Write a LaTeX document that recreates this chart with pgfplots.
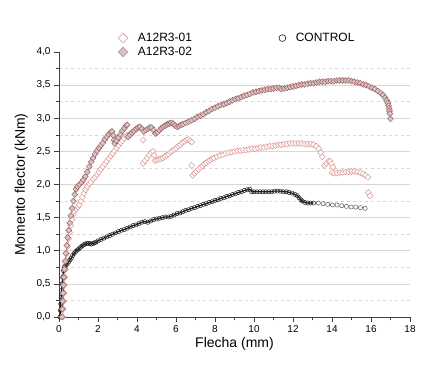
\documentclass[border=0pt]{standalone}
\usepackage{fontspec}
\setmainfont{Liberation Sans}
\usepackage{pgfplots}
\usepackage{pgfplotstable}
\pgfplotsset{compat=1.18}
\definecolor{cA}{RGB}{222,150,150}
\definecolor{cB}{RGB}{168,92,92}
\definecolor{fB}{RGB}{208,200,200}
\definecolor{cC}{RGB}{30,30,30}
\definecolor{gridc}{RGB}{215,215,215}

\pgfplotstableread{
x y
0.15 0.00
0.17 0.12
0.19 0.24
0.21 0.36
0.23 0.48
0.25 0.60
0.28 0.72
0.31 0.84
0.35 0.96
0.40 1.08
0.45 1.20
0.50 1.31
0.55 1.42
0.61 1.53
0.67 1.64
0.74 1.75
0.81 1.85
0.88 1.93
0.95 1.97
1.05 2.00
1.15 2.03
1.25 2.07
1.35 2.12
1.45 2.19
1.55 2.27
1.65 2.34
1.75 2.40
1.85 2.46
1.95 2.51
2.05 2.55
2.15 2.59
2.25 2.63
2.35 2.68
2.45 2.72
2.55 2.76
2.65 2.79
2.72 2.80
2.78 2.74
2.82 2.67
2.86 2.62
2.95 2.66
3.05 2.71
3.15 2.76
3.25 2.81
3.35 2.85
3.45 2.89
3.50 2.90
nan nan
3.55 2.72
3.65 2.75
3.75 2.78
3.85 2.81
3.95 2.84
4.05 2.86
4.15 2.87
4.25 2.84
4.35 2.80
4.45 2.82
4.55 2.84
4.65 2.86
4.75 2.86
4.85 2.82
4.95 2.77
5.05 2.79
5.15 2.82
5.25 2.85
5.35 2.87
5.45 2.89
5.55 2.91
5.65 2.92
5.75 2.93
5.85 2.92
5.95 2.89
6.05 2.87
6.15 2.88
6.25 2.90
6.35 2.91
6.50 2.93
6.65 2.95
6.80 2.97
6.95 2.99
7.10 3.02
7.25 3.04
7.40 3.06
7.55 3.09
7.70 3.11
7.85 3.14
8.00 3.16
8.15 3.18
8.30 3.20
8.45 3.21
8.60 3.23
8.75 3.25
8.90 3.27
9.05 3.29
9.20 3.30
9.35 3.32
9.50 3.34
9.65 3.35
9.80 3.37
9.95 3.39
10.10 3.40
10.25 3.41
10.40 3.42
10.55 3.43
10.70 3.44
10.85 3.44
11.00 3.45
11.15 3.46
11.30 3.46
11.40 3.44
11.55 3.45
11.70 3.46
11.85 3.47
12.00 3.48
12.15 3.49
12.30 3.50
12.45 3.51
12.60 3.51
12.75 3.52
12.90 3.53
13.05 3.53
13.20 3.54
13.35 3.55
13.50 3.55
13.65 3.55
13.80 3.56
13.95 3.56
14.10 3.56
14.25 3.57
14.40 3.57
14.55 3.57
14.70 3.57
14.85 3.57
15.00 3.56
15.15 3.55
15.30 3.54
15.45 3.53
15.60 3.51
15.75 3.50
15.90 3.48
16.05 3.46
16.20 3.44
16.35 3.41
16.50 3.38
16.62 3.35
16.72 3.31
16.80 3.27
16.86 3.23
16.90 3.19
16.93 3.15
16.95 3.11
16.97 3.07
17.00 2.99
}\dataB

\pgfplotstableread{
x y
0.20 0.00
0.22 0.12
0.24 0.24
0.26 0.36
0.28 0.48
0.30 0.60
0.33 0.72
0.36 0.84
0.40 0.96
0.44 1.07
0.49 1.18
0.54 1.28
0.60 1.38
0.66 1.47
0.73 1.55
0.80 1.60
0.88 1.63
0.96 1.66
1.04 1.69
1.12 1.75
1.20 1.81
1.28 1.87
1.36 1.92
1.45 1.97
1.55 2.01
1.65 2.04
1.75 2.08
1.85 2.11
1.95 2.15
2.05 2.19
2.15 2.23
2.25 2.27
2.35 2.31
2.45 2.35
2.55 2.39
2.65 2.43
2.75 2.47
2.85 2.51
2.95 2.55
3.05 2.59
3.15 2.63
3.25 2.66
3.35 2.70
3.45 2.73
3.55 2.75
3.65 2.77
3.75 2.79
3.85 2.81
3.95 2.83
4.05 2.85
4.15 2.86
nan nan
4.32 2.67
nan nan
4.32 2.32
4.42 2.36
4.52 2.40
4.62 2.44
4.72 2.48
4.82 2.50
4.88 2.44
4.92 2.36
5.02 2.37
5.12 2.38
5.22 2.39
5.32 2.40
5.42 2.42
5.52 2.44
5.62 2.46
5.72 2.49
5.82 2.51
5.92 2.53
6.02 2.55
6.12 2.58
6.22 2.60
6.32 2.63
6.42 2.65
6.52 2.67
6.62 2.68
6.72 2.66
6.80 2.64
nan nan
6.80 2.29
nan nan
6.86 2.14
6.95 2.17
7.05 2.20
7.15 2.23
7.25 2.26
7.35 2.28
7.45 2.31
7.55 2.33
7.65 2.35
7.75 2.37
7.85 2.39
7.95 2.40
8.10 2.42
8.25 2.44
8.40 2.45
8.55 2.47
8.70 2.48
8.85 2.49
9.00 2.50
9.15 2.51
9.30 2.51
9.45 2.52
9.60 2.52
9.75 2.53
9.90 2.54
10.05 2.54
10.20 2.55
10.35 2.56
10.50 2.56
10.65 2.57
10.80 2.58
10.95 2.58
11.10 2.59
11.25 2.60
11.40 2.60
11.55 2.61
11.70 2.61
11.85 2.62
12.00 2.62
12.15 2.62
12.30 2.62
12.45 2.62
12.60 2.61
12.75 2.61
12.90 2.61
13.05 2.60
13.20 2.58
13.32 2.54
13.42 2.48
13.50 2.42
nan nan
13.62 2.29
13.72 2.32
13.82 2.35
13.90 2.35
13.98 2.31
14.05 2.26
nan nan
14.00 2.18
14.12 2.17
14.25 2.17
14.40 2.18
14.55 2.18
14.70 2.19
14.85 2.19
15.00 2.20
15.15 2.20
15.30 2.19
15.45 2.18
15.60 2.16
15.72 2.14
15.85 2.11
nan nan
15.86 1.88
15.95 1.83
}\dataA

\pgfplotstableread{
x y
0.05 0.00
0.07 0.10
0.09 0.20
0.11 0.30
0.13 0.40
0.16 0.50
0.19 0.60
0.23 0.70
0.28 0.76
0.35 0.78
0.42 0.80
0.49 0.83
0.56 0.86
0.63 0.89
0.70 0.93
0.78 0.96
0.86 0.99
0.94 1.01
1.02 1.03
1.10 1.05
1.18 1.07
1.26 1.09
1.34 1.10
1.42 1.11
1.50 1.11
1.58 1.11
1.66 1.10
1.74 1.11
1.82 1.12
1.90 1.13
2.00 1.15
2.15 1.17
2.30 1.19
2.45 1.21
2.60 1.23
2.75 1.25
2.90 1.27
3.05 1.29
3.20 1.31
3.35 1.32
3.50 1.34
3.65 1.36
3.80 1.38
3.95 1.39
4.10 1.41
4.25 1.43
4.40 1.44
4.55 1.43
4.70 1.45
4.85 1.47
5.00 1.48
5.15 1.49
5.30 1.50
5.45 1.51
5.60 1.51
5.75 1.52
5.90 1.54
6.05 1.56
6.20 1.57
6.35 1.59
6.50 1.61
6.65 1.62
6.80 1.64
6.95 1.65
7.10 1.67
7.25 1.68
7.40 1.70
7.55 1.71
7.70 1.73
7.85 1.74
8.00 1.76
8.15 1.77
8.30 1.79
8.45 1.80
8.60 1.82
8.75 1.83
8.90 1.85
9.05 1.86
9.20 1.88
9.35 1.89
9.50 1.91
9.65 1.92
9.78 1.93
9.88 1.89
10.00 1.89
10.15 1.89
10.30 1.89
10.45 1.89
10.60 1.89
10.75 1.89
10.90 1.89
11.05 1.90
11.20 1.90
11.35 1.90
11.50 1.89
11.65 1.89
11.80 1.88
11.95 1.87
12.10 1.85
12.22 1.83
12.32 1.80
12.40 1.77
12.48 1.75
12.60 1.73
12.75 1.72
12.90 1.72
13.05 1.72
}\dataC

\pgfplotstableread{
x y
13.30 1.72
13.54 1.71
13.78 1.70
14.02 1.69
14.26 1.69
14.50 1.68
14.74 1.67
14.98 1.66
15.22 1.66
15.46 1.65
15.70 1.64
}\dataCs

\begin{document}
\begin{tikzpicture}
\path (-59pt,-53pt) rectangle (385pt,317pt);
\begin{axis}[
  scale only axis, width=351pt, height=265pt,
  xmin=0, xmax=18, ymin=0, ymax=4,
  axis x line*=bottom, axis y line*=left,
  axis line style={draw=black!75, line width=0.6pt},
  xtick={0,2,...,18}, minor x tick num=1,
  ytick={0,0.5,...,3.5},
  minor ytick={0.25,0.75,...,3.75},
  extra y ticks={4},
  extra y tick labels={4{,}0},
  extra y tick style={grid=none},
  tick align=outside, major tick length=5pt, minor tick length=3pt,
  tick style={draw=black!75, line width=0.6pt},
  ymajorgrids, yminorgrids,
  major grid style={draw=gridc, line width=0.7pt},
  minor grid style={draw=gridc, dashed, line width=0.6pt},
  /pgf/number format/assume math mode=true,
  yticklabel style={/pgf/number format/.cd, use comma, fixed, fixed zerofill, precision=1},
  tick label style={font=\fontsize{10}{12}\selectfont},
  xlabel={Flecha (mm)}, ylabel={Momento flector (kNm)},
  label style={font=\fontsize{14}{16}\selectfont},
  xlabel style={yshift=2pt},
  ylabel style={yshift=-8pt},
  unbounded coords=jump,
  legend columns=2,
  legend style={at={(rel axis cs:0.16,1.087)}, anchor=north west, draw=none, fill=none,
    font=\fontsize{12}{14}\selectfont, row sep=0pt,
    /tikz/every odd column/.append style={column sep=8pt},
    /tikz/every even column/.append style={column sep=85pt}},
  clip=false,
]
\addlegendimage{only marks, mark=square*, mark size=3.4pt, mark options={rotate=45, draw=cA, fill=white, line width=0.6pt}}
\addlegendentry{A12R3-01}
\addlegendimage{only marks, mark=o, mark size=3.4pt, mark options={draw=cC, line width=0.6pt}}
\addlegendentry{CONTROL}
\addlegendimage{only marks, mark=square*, mark size=3.4pt, mark options={rotate=45, draw=cB!70, fill=fB, line width=0.6pt}}
\addlegendentry{A12R3-02}

\addplot[forget plot, draw=cA, line width=0.5pt, mark=square*, mark size=2.1pt,
  mark options={rotate=45, draw=cA, fill=white, line width=0.5pt}] table[x=x,y=y] {\dataA};
\addplot[forget plot, draw=cC, line width=1.2pt, mark=o, mark size=2.1pt,
  mark options={draw=cC, line width=0.5pt}] table[x=x,y=y] {\dataC};
\addplot[forget plot, only marks, mark=o, mark size=2.1pt,
  mark options={draw=black!65, line width=0.5pt}] table[x=x,y=y] {\dataCs};
\addplot[forget plot, draw=cB, line width=0.5pt, mark=square*, mark size=2.1pt,
  mark options={rotate=45, draw=cB, fill=fB, line width=0.5pt}] table[x=x,y=y] {\dataB};
\end{axis}
\end{tikzpicture}
\end{document}
